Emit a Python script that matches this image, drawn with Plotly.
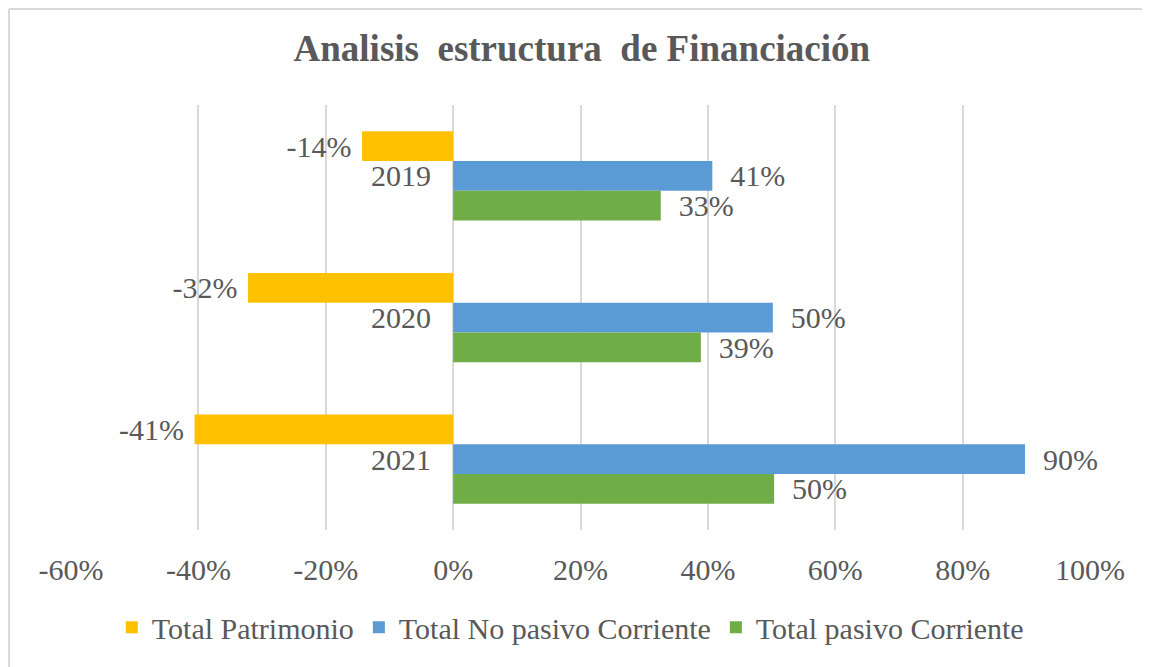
import plotly.graph_objects as go

years = ["2019", "2020", "2021"]
patrimonio = [-0.143, -0.322, -0.406]
no_pasivo_corriente = [0.407, 0.502, 0.898]
pasivo_corriente = [0.326, 0.389, 0.504]
tick_vals = [-0.6, -0.4, -0.2, 0, 0.2, 0.4, 0.6, 0.8, 1.0]
tick_text = ["-60%", "-40%", "-20%", "0%", "20%", "40%", "60%", "80%", "100%"]

FONT = "Liberation Serif, Times New Roman, serif"
GRAY = "#595959"
NB = "\u00a0"


def lbl(vals):
    out = []
    for v in vals:
        s = f"{round(v * 100):.0f}%"
        out.append(s + NB if v < 0 else NB * 2 + s)
    return out


series = [
    ("Total Patrimonio", patrimonio, "#FFC000"),
    ("Total No pasivo Corriente", no_pasivo_corriente, "#5B9BD5"),
    ("Total pasivo Corriente", pasivo_corriente, "#70AD47"),
]

fig = go.Figure()
for name, vals, color in series:
    fig.add_trace(go.Bar(
        y=years, x=vals, name=name, orientation="h",
        marker=dict(color=color, line=dict(width=0)),
        text=lbl(vals), textposition="outside", constraintext="none",
        cliponaxis=False,
        textfont=dict(family=FONT, size=30, color=GRAY),
        hoverinfo="skip",
    ))

for i, y in enumerate(years):
    # category axes place annotations by category index
    fig.add_annotation(x=0, y=i, xref="x", yref="y", text=y, showarrow=False,
                       xanchor="right", yanchor="middle", xshift=-20,
                       font=dict(family=FONT, size=30, color=GRAY))

fig.update_layout(
    width=1150, height=667,
    paper_bgcolor="white", plot_bgcolor="white",
    margin=dict(l=63, r=68, t=97, b=145),
    barmode="group", bargap=0.37, bargroupgap=0,
    title=dict(text="<b>Analisis  estructura  de Financiación</b>",
               x=0.499, xanchor="center", y=0.94, yanchor="middle",
               font=dict(family=FONT, size=37, color=GRAY)),
    xaxis=dict(range=[-0.6, 1.0], tickvals=tick_vals, ticktext=tick_text,
               showgrid=True, gridcolor="#D9D9D9", gridwidth=2,
               zeroline=True, zerolinecolor="#D9D9D9", zerolinewidth=2,
               showline=False, ticks="", ticklabelstandoff=19,
               tickfont=dict(family=FONT, size=30, color=GRAY)),
    yaxis=dict(type="category", autorange="reversed", showticklabels=False,
               showgrid=False, zeroline=False, showline=False, ticks=""),
    legend=dict(orientation="h", x=0.49, xanchor="center", y=-0.229,
                yanchor="middle", font=dict(family=FONT, size=30, color=GRAY),
                itemwidth=30, tracegroupgap=0),
    showlegend=True,
    shapes=[
        dict(type="line", xref="paper", yref="paper", x0=-0.0608, x1=1.2,
             y0=1.2259, y1=1.2259, line=dict(color="#D9D9D9", width=2)),
        dict(type="line", xref="paper", yref="paper", x0=-0.0608, x1=-0.0608,
             y0=1.2259, y1=-0.5, line=dict(color="#D9D9D9", width=2)),
    ],
)

fig.write_html("out.html")
